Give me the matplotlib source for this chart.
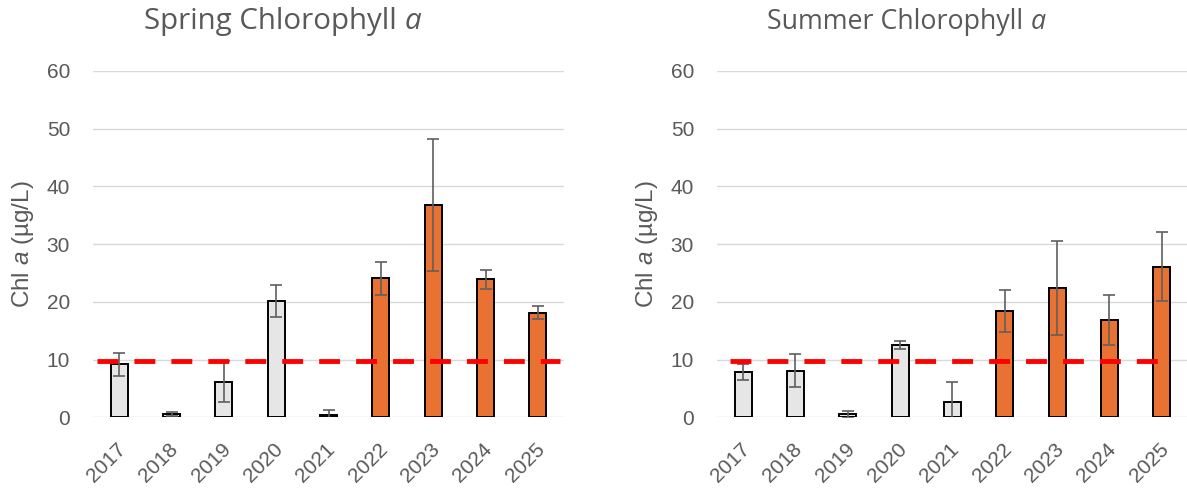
import matplotlib
matplotlib.use('Agg')
import matplotlib.pyplot as plt
import matplotlib.transforms as mtransforms
import numpy as np

years = ['2017', '2018', '2019', '2020', '2021', '2022', '2023', '2024', '2025']
spring_vals = [9.2, 0.6, 6.2, 20.1, 0.45, 24.1, 36.8, 23.9, 18.1]
spring_err = [2.0, 0.3, 3.5, 2.8, 0.8, 2.85, 11.4, 1.7, 1.1]
summer_vals = [7.85, 8.1, 0.5, 12.6, 2.7, 18.4, 22.4, 16.9, 26.1]
summer_err = [1.45, 2.85, 0.6, 0.7, 3.5, 3.7, 8.2, 4.3, 6.0]
threshold = 9.8
highlight_from = '2022'

GRAY_TXT = '#595959'
TITLE_FONT = 'Open Sans'
TICK_FONT = 'Liberation Sans'
plt.rcParams['font.family'] = [TICK_FONT, 'DejaVu Sans']
plt.rcParams['mathtext.fontset'] = 'custom'
plt.rcParams['mathtext.rm'] = TICK_FONT
plt.rcParams['mathtext.it'] = TICK_FONT + ':italic'

W, H = 1187, 490
fig = plt.figure(figsize=(W / 100, H / 100), dpi=100)

def px_axes(x0, x1, ytop, ybot):
    return [x0 / W, 1 - ybot / H, (x1 - x0) / W, (ybot - ytop) / H]

AX_TOP, AX_BOT = 71, 417.3
axL = fig.add_axes(px_axes(93, 564, AX_TOP, AX_BOT))
axR = fig.add_axes(px_axes(717, 1188, AX_TOP, AX_BOT))

def draw(ax, vals, errs, title, red_x, ylabel_px):
    x = np.arange(len(years))
    colors = ['#E97132' if int(y) >= int(highlight_from) else '#E7E6E6' for y in years]
    ax.set_axisbelow(True)
    ax.yaxis.grid(True, color='#D9D9D9', linewidth=1.0)
    ax.bar(x, vals, width=0.33, color=colors, edgecolor='black', linewidth=1.4, zorder=2)
    ax.errorbar(x, vals, yerr=errs, fmt='none', ecolor='#5F5F5F', elinewidth=1.2,
                capsize=4, capthick=1.2, zorder=3)
    ax.plot(red_x, [threshold, threshold], color='#FF0000', linewidth=3.5,
            linestyle=(0, (4.3, 3.3)), dash_capstyle='butt', zorder=4)
    ax.set_xlim(-0.5, len(years) - 0.5)
    ax.set_ylim(0, 60)
    ax.set_yticks(np.arange(0, 61, 10))
    for s in ax.spines.values():
        s.set_visible(False)
    ax.tick_params(axis='both', length=0, labelsize=15, labelcolor=GRAY_TXT)
    ax.tick_params(axis='y', pad=16.5)
    ax.tick_params(axis='x', pad=16)
    ax.set_xticks(x)
    ax.set_xticklabels(years, rotation=45, ha='right', rotation_mode='anchor')
    shift = mtransforms.ScaledTranslation(-3 / 100, 0, fig.dpi_scale_trans)
    for lab in ax.get_xticklabels():
        lab.set_transform(lab.get_transform() + shift)
    fig.text(ylabel_px / W, 1 - (AX_TOP + AX_BOT) / 2 / H, r'Chl $a$ (µg/L)',
             fontsize=17.5, color=GRAY_TXT, rotation=90, ha='center', va='center')

    # title with italic "a", fitted to the original's width and offset
    fig.canvas.draw()
    r = fig.canvas.get_renderer()
    fs = 20
    t1 = ax.text(0, 0, title + ' ', fontsize=fs, family=TITLE_FONT, color=GRAY_TXT,
                 transform=ax.transAxes, va='baseline', ha='left')
    t2 = ax.text(0, 0, 'a', fontsize=fs, family=TITLE_FONT, style='italic',
                 color=GRAY_TXT, transform=ax.transAxes, va='baseline', ha='left')
    w_tot = t1.get_window_extent(r).width + t2.get_window_extent(r).width
    fs = fs * 278 / w_tot
    t1.set_fontsize(fs)
    t2.set_fontsize(fs)
    w1 = t1.get_window_extent(r).width
    w2 = t2.get_window_extent(r).width
    axw = ax.get_window_extent(r).width
    cx = 0.5 - 46 / 471
    left = cx - (w1 + w2) / 2 / axw
    ty = 1 + 42 / (AX_BOT - AX_TOP)
    t1.set_position((left, ty))
    t2.set_position((left + w1 / axw, ty))

draw(axL, spring_vals, spring_err, 'Spring Chlorophyll', [-0.42, 8.43], 23)
draw(axR, summer_vals, summer_err, 'Summer Chlorophyll', [-0.26, 7.96], 647)

fig.savefig('out.png', dpi=100)
